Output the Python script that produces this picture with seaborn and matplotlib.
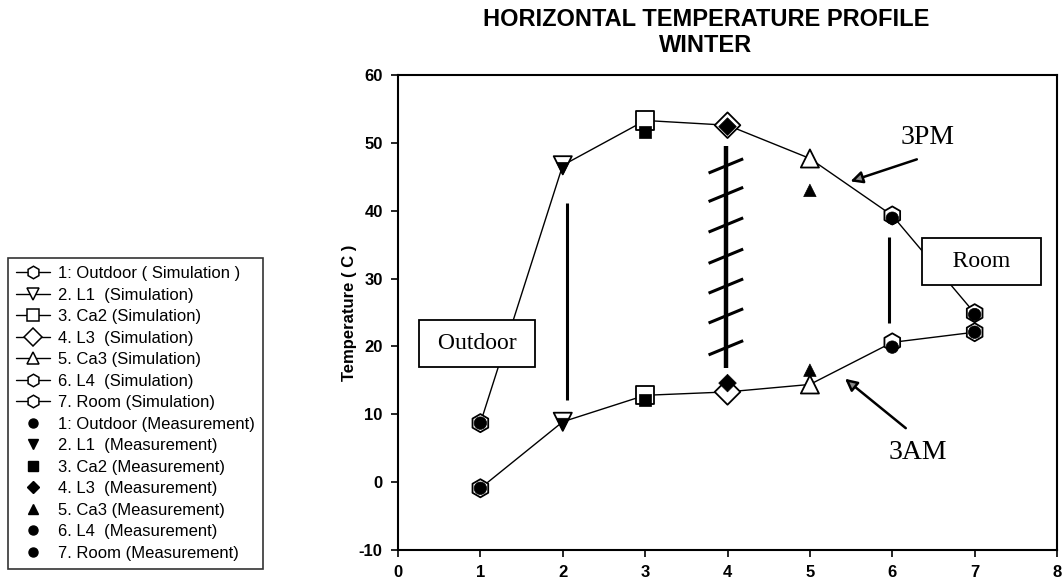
import numpy as np
import pandas as pd
import matplotlib
matplotlib.use("Agg")
import matplotlib.pyplot as plt
import seaborn as sns
from matplotlib.lines import Line2D

# ---------------- data ----------------
locations = [1, 2, 3, 4, 5, 6, 7]
sim_3pm = [8.7, 46.7, 53.3, 52.6, 47.7, 39.3, 24.9]
meas_3pm = [8.7, 46.2, 51.6, 52.4, 43.0, 38.9, 24.7]
sim_3am = [-0.9, 8.9, 12.8, 13.3, 14.4, 20.6, 22.1]
meas_3am = [-0.9, 8.5, 12.1, 14.6, 16.5, 19.9, 22.1]

sim_labels = ["1: Outdoor ( Simulation )", "2. L1  (Simulation)", "3. Ca2 (Simulation)",
              "4. L3  (Simulation)", "5. Ca3 (Simulation)", "6. L4  (Simulation)",
              "7. Room (Simulation)"]
meas_labels = ["1: Outdoor (Measurement)", "2. L1  (Measurement)", "3. Ca2 (Measurement)",
               "4. L3  (Measurement)", "5. Ca3 (Measurement)", "6. L4  (Measurement)",
               "7. Room (Measurement)"]

x_ticks = [0, 1, 2, 3, 4, 5, 6, 7, 8]
y_ticks = [-10, 0, 10, 20, 30, 40, 50, 60]

# annotation guide lines (range bars between 3AM and 3PM)
bar_x = [2.05, 3.98, 5.96]
bar_low = [12.1, 16.8, 23.4]
bar_high = [41.1, 49.6, 36.1]
bar_width = [2.2, 3.2, 2.2]
hatch_y = [46.6, 42.4, 37.9, 33.3, 28.9, 24.5, 19.8]

sim_markers = {1: "h", 2: "v", 3: "s", 4: "D", 5: "^", 6: "h", 7: "h"}
meas_markers = {1: "o", 2: "v", 3: "s", 4: "D", 5: "^", 6: "o", 7: "o"}

df_sim = pd.DataFrame({"location": locations * 2,
                       "temp": sim_3pm + sim_3am,
                       "time": ["3PM"] * 7 + ["3AM"] * 7})
df_meas = pd.DataFrame({"location": locations * 2,
                        "temp": meas_3pm + meas_3am,
                        "time": ["3PM"] * 7 + ["3AM"] * 7})

# ---------------- style ----------------
sns.set_theme(style="white")
plt.rcParams["font.family"] = ["Liberation Sans", "DejaVu Sans"]
plt.rcParams["text.color"] = "black"
plt.rcParams["axes.labelcolor"] = "black"
plt.rcParams["axes.unicode_minus"] = False

fig = plt.figure(figsize=(10.63, 5.86), dpi=100)
ax = fig.add_axes([0.3744, 0.0614, 0.62, 0.8106])

sns.lineplot(data=df_sim, x="location", y="temp", units="time", estimator=None,
             sort=False, color="black", lw=1.0, ax=ax, zorder=2, legend=False)
sns.scatterplot(data=df_sim, x="location", y="temp", style="location",
                markers=sim_markers, s=170, color="white", edgecolor="black",
                linewidth=1.3, ax=ax, zorder=3, legend=False)
sns.scatterplot(data=df_meas, x="location", y="temp", style="location",
                markers=meas_markers, s=80, color="black", edgecolor="black",
                linewidth=0.5, ax=ax, zorder=4, legend=False)

# range bars
for bx, lo, hi, w in zip(bar_x, bar_low, bar_high, bar_width):
    ax.plot([bx, bx], [lo, hi], color="black", lw=w, solid_capstyle="butt", zorder=2)
for hy in hatch_y:
    ax.plot([bar_x[1] - 0.21, bar_x[1] + 0.21], [hy - 1.05, hy + 1.05],
            color="black", lw=2.2, solid_capstyle="butt", zorder=2)

# boxes
box = dict(boxstyle="square,pad=0.55", fc="white", ec="black", lw=1.3)
ax.text(0.96, 20.4, " Outdoor ", family="Liberation Serif", fontsize=17,
        ha="center", va="center", bbox=box, zorder=5)
ax.text(7.08, 32.5, "   Room   ", family="Liberation Serif", fontsize=17,
        ha="center", va="center", bbox=box, zorder=5)

# 3PM / 3AM labels with arrows
arrow = dict(arrowstyle="-|>", mutation_scale=18, fc="#8a8a8a", ec="black", lw=1.8)
ax.text(6.43, 50.8, "3PM", family="Liberation Serif", fontsize=20,
        ha="center", va="center", zorder=5)
ax.annotate("", xy=(5.46, 44.2), xytext=(6.33, 47.7), arrowprops=arrow, zorder=5)
ax.text(6.31, 4.3, "3AM", family="Liberation Serif", fontsize=20,
        ha="center", va="center", zorder=5)
ax.annotate("", xy=(5.40, 15.5), xytext=(6.19, 7.7), arrowprops=arrow, zorder=5)

# axes
ax.set_xlim(0, 8)
ax.set_ylim(-10, 60)
ax.set_xticks(x_ticks)
ax.set_yticks(y_ticks)
ax.set_xlabel("")
ax.set_ylabel("Temperature ( C )", fontsize=12, fontweight="bold", labelpad=1)
ax.tick_params(axis="both", which="both", bottom=True, left=True, direction="out",
               length=5, width=1.2, labelsize=12, colors="black", pad=6)
for lab in ax.get_xticklabels() + ax.get_yticklabels():
    lab.set_fontweight("bold")
for sp in ax.spines.values():
    sp.set_color("black")
    sp.set_linewidth(1.5)
ax.set_facecolor("white")

fig.text(0.664, 0.945, "HORIZONTAL TEMPERATURE PROFILE\nWINTER", ha="center",
         va="center", fontsize=17, fontweight="bold", linespacing=1.15,
         color="black")

# legend
handles = []
for loc in locations:
    handles.append(Line2D([0], [0], color="black", lw=1, marker=sim_markers[loc],
                          markersize=9, markerfacecolor="white",
                          markeredgecolor="black", markeredgewidth=1.1))
for loc in locations:
    handles.append(Line2D([0], [0], linestyle="none", marker=meas_markers[loc],
                          markersize=6.5, color="black"))
leg = fig.legend(handles, sim_labels + meas_labels, loc="upper left",
                 bbox_to_anchor=(0.0075, 0.56), frameon=True, fancybox=False,
                 edgecolor="black", fontsize=12, labelspacing=0.39,
                 handlelength=2.0, handletextpad=0.5, borderpad=0.5,
                 borderaxespad=0)
leg.get_frame().set_linewidth(1.2)
for t in leg.get_texts():
    t.set_color("black")

fig.savefig("out.png", dpi=100)
